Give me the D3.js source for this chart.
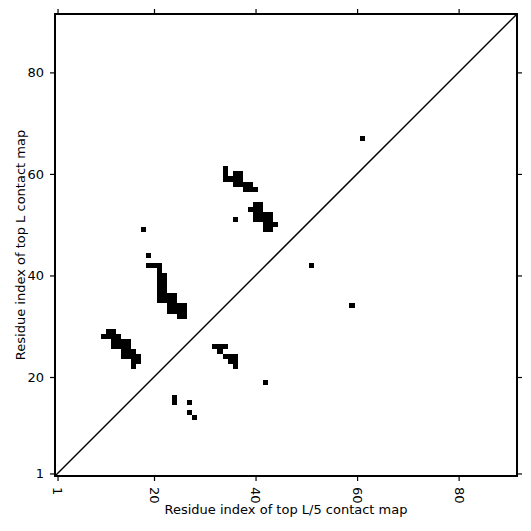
<!DOCTYPE html>
<html>
<head>
<meta charset="utf-8">
<script src="https://cdn.jsdelivr.net/npm/d3@7"></script>
<style>
  body { margin: 0; background: #fff; }
  text { font-family: "DejaVu Sans", sans-serif; }
</style>
</head>
<body>
<div id="chart"></div>
<script>
// sequence length and tick values
const seqLength = 91;
const tickValues = [1, 20, 40, 60, 80];
const xTitle = "Residue index of top L/5 contact map";
const yTitle = "Residue index of top L contact map";

// top L contacts [i, j] (upper-left half)
const topLContacts = [
  [18, 49], [19, 44], [19, 42], [20, 42], [21, 42], [21, 41],
  [21, 40], [22, 40], [21, 39], [22, 39], [21, 38], [22, 38], [21, 37], [22, 37],
  [21, 36], [22, 36], [23, 36], [24, 36], [21, 35], [22, 35], [23, 35], [24, 35],
  [23, 34], [24, 34], [25, 34], [26, 34], [23, 33], [24, 33], [25, 33], [26, 33],
  [25, 32], [26, 32],
  [11, 29], [12, 29], [10, 28], [11, 28], [12, 28], [13, 28],
  [12, 27], [13, 27], [14, 27], [15, 27], [12, 26], [13, 26], [14, 26], [15, 26],
  [14, 25], [15, 25], [16, 25], [14, 24], [15, 24], [16, 24], [17, 24],
  [16, 23], [17, 23], [16, 22],
  [34, 61], [34, 60], [36, 60], [37, 60], [34, 59], [35, 59], [36, 59], [37, 59],
  [36, 58], [37, 58], [38, 58], [39, 58], [38, 57], [39, 57], [40, 57],
  [40, 54], [41, 54], [39, 53], [40, 53], [41, 53],
  [40, 52], [41, 52], [42, 52], [43, 52], [36, 51], [40, 51], [41, 51], [42, 51], [43, 51],
  [42, 50], [43, 50], [44, 50], [42, 49], [43, 49],
  [61, 67]
];

// top L/5 contacts [i, j] (lower-right half)
const topL5Contacts = [
  [32, 26], [33, 26], [34, 26], [33, 25], [34, 24], [35, 24], [36, 24],
  [35, 23], [36, 23], [36, 22],
  [24, 16], [24, 15], [27, 15], [27, 13], [28, 12],
  [42, 19], [51, 42], [59, 34]
];

const drawChart = () => {
  const containerWidth = 531;
  const containerHeight = 531;
  const margin = { top: 14, right: 14, bottom: 55, left: 55 };
  const width = containerWidth - margin.left - margin.right;
  const height = containerHeight - margin.top - margin.bottom;

  const svg = d3
    .select("#chart")
    .append("svg")
    .attr("width", containerWidth)
    .attr("height", containerHeight)
    .append("g")
    .attr("transform", `translate(${margin.left},${margin.top})`);

  // Set up scales (cells centred on integer residue index)
  const xScale = d3.scaleLinear().domain([0.5, seqLength + 0.5]).range([0, width]);
  const yScale = d3.scaleLinear().domain([0.5, seqLength + 0.5]).range([height, 0]);

  // Contact cells
  const allContacts = topLContacts.concat(topL5Contacts);
  svg
    .selectAll(".cell")
    .data(allContacts)
    .enter()
    .append("rect")
    .attr("class", "cell")
    .attr("x", (d) => xScale(d[0] - 0.5))
    .attr("y", (d) => yScale(d[1] + 0.5))
    .attr("width", (d) => xScale(d[0] + 0.5) - xScale(d[0] - 0.5))
    .attr("height", (d) => yScale(d[1] - 0.5) - yScale(d[1] + 0.5))
    .attr("fill", "#000")
    .attr("shape-rendering", "crispEdges");

  // Diagonal
  svg
    .append("line")
    .attr("x1", xScale(0.5))
    .attr("y1", yScale(0.5))
    .attr("x2", xScale(seqLength + 0.5))
    .attr("y2", yScale(seqLength + 0.5))
    .attr("stroke", "#000")
    .attr("stroke-width", 1.5);

  // Axes
  const xAxis = d3.axisBottom(xScale).tickValues(tickValues).tickSize(5);
  const yAxis = d3.axisLeft(yScale).tickValues(tickValues).tickSize(5).tickPadding(6);

  const gx = svg
    .append("g")
    .attr("transform", `translate(0,${height})`)
    .call(xAxis);

  gx.selectAll("text")
    .attr("transform", "rotate(90)")
    .attr("x", 11)
    .attr("y", 0)
    .attr("dy", "0.35em")
    .style("text-anchor", "start");

  const gy = svg.append("g").call(yAxis);

  // ticks on top and right too
  const gt = svg
    .append("g")
    .call(d3.axisTop(xScale).tickValues(tickValues).tickSize(5).tickFormat(""));
  const gr = svg
    .append("g")
    .attr("transform", `translate(${width},0)`)
    .call(d3.axisRight(yScale).tickValues(tickValues).tickSize(5).tickFormat(""));

  [gx, gy, gt, gr].forEach((g) => {
    g.select(".domain").remove();
    g.selectAll("line").attr("stroke", "#000").attr("stroke-width", 1.2);
    g.selectAll("text").attr("fill", "#000").style("font-size", "13px");
  });

  // Frame
  svg
    .append("rect")
    .attr("width", width)
    .attr("height", height)
    .attr("fill", "none")
    .attr("stroke", "#000")
    .attr("stroke-width", 2);

  // Axis labels
  svg
    .append("text")
    .attr("transform", `translate(${width / 2}, ${height + 38})`)
    .style("text-anchor", "middle")
    .style("font-size", "13px")
    .text(xTitle);

  svg
    .append("text")
    .attr("transform", "rotate(-90)")
    .attr("y", -30)
    .attr("x", -height / 2)
    .style("text-anchor", "middle")
    .style("font-size", "13px")
    .text(yTitle);
};

drawChart();
</script>
</body>
</html>
